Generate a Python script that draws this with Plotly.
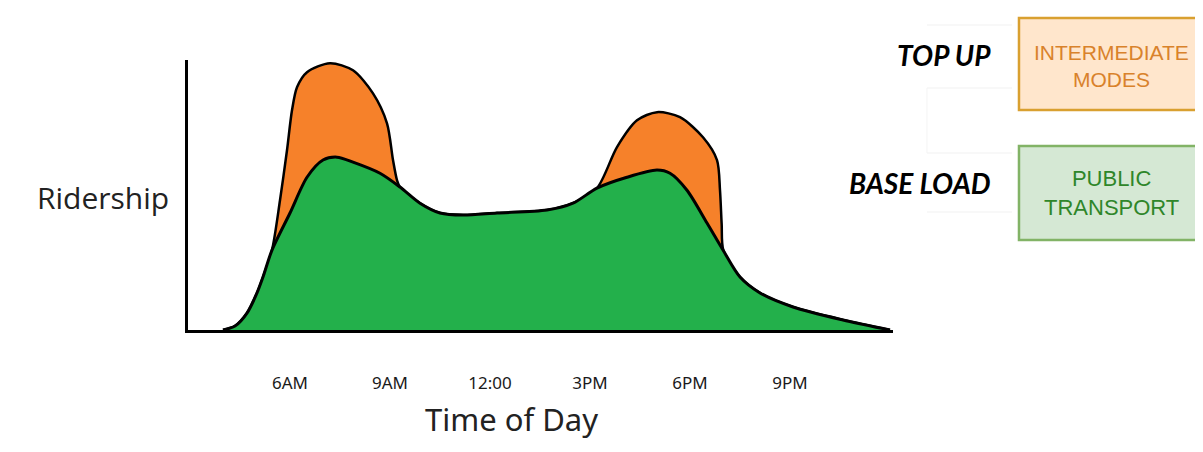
import plotly.graph_objects as go

# Ridership (arbitrary units) vs hour of day
base_hours = [3.99, 4.35, 4.71, 5.01, 5.19, 5.46, 6.0, 6.51, 6.99, 7.41, 7.89, 8.70, 9.30, 9.90,
              10.5, 11.19, 12.21, 13.71, 14.49, 15.21, 16.11, 17.01, 17.40, 17.91, 18.51, 18.99,
              19.50, 20.10, 21.09, 22.59, 24.0]
base_values = [0, 1.5, 6.4, 14, 20, 30.2, 44.2, 57.7, 64.2, 65.3, 63.4, 59.2, 54, 47.9,
               44.2, 43.4, 44.2, 45.3, 47.9, 53.6, 57.7, 60.4, 59.2, 52.8, 40.4, 30.2,
               20, 14, 8.7, 3.8, 0]

total_hours = [3.99, 4.35, 4.71, 5.01, 5.19, 5.46, 5.7, 5.91, 6.06, 6.21, 6.51, 7.2, 7.89, 8.49,
               8.91, 9.09, 9.21, 9.30, 9.90, 10.5, 11.19, 12.21, 13.71, 14.49, 15.21, 15.81,
               16.41, 17.01, 17.70, 18.39, 18.81, 18.9, 18.95, 19.0, 19.50, 20.10, 21.09,
               22.59, 24.0]
total_values = [0, 1.5, 6.4, 14, 20, 30.2, 49, 67.9, 83, 91.7, 97.4, 100.8, 98.1, 89.4,
                78.1, 64.2, 56.6, 54, 47.9, 44.2, 43.4, 44.2, 45.3, 47.9, 53.6, 69.1,
                79.2, 82.3, 80.4, 72.8, 64.2, 52.8, 40, 30.2, 20, 14, 8.7,
                3.8, 0]

tick_hours = [6, 9, 12, 15, 18, 21]
tick_labels = ["6AM", "9AM", "12:00", "3PM", "6PM", "9PM"]

ORANGE = "#F6812A"
GREEN = "#23B04B"

fig = go.Figure()
fig.add_trace(go.Scatter(
    x=total_hours, y=total_values, mode="lines", fill="tozeroy",
    fillcolor=ORANGE, line=dict(color="black", width=2.5, shape="spline", smoothing=0.8),
    hoverinfo="skip", showlegend=False))
fig.add_trace(go.Scatter(
    x=base_hours, y=base_values, mode="lines", fill="tozeroy",
    fillcolor=GREEN, line=dict(color="black", width=3, shape="spline", smoothing=0.8),
    hoverinfo="skip", showlegend=False))

fig.update_layout(
    width=1187, height=436,
    margin=dict(l=180, r=302, t=52, b=114),
    paper_bgcolor="white", plot_bgcolor="white",
    xaxis=dict(range=[2.94, 24.09], showgrid=False, zeroline=False,
               showline=True, linecolor="black", linewidth=3,
               tickvals=tick_hours, ticktext=tick_labels, ticks="",
               ticklabelstandoff=36,
               tickfont=dict(family="Noto Sans", size=17, color="#1a1a1a")),
    yaxis=dict(range=[0, 102], showgrid=False, zeroline=False,
               showline=True, linecolor="black", linewidth=3,
               showticklabels=False, ticks=""),
)

# faint table lines near labels
for yy in [1.1296, 0.8963, 0.6556, 0.437]:
    fig.add_shape(type="line", xref="paper", yref="paper", x0=1.0482, x1=1.1688,
                  y0=yy, y1=yy, line=dict(color="#f1f1f1", width=1), layer="below")
fig.add_shape(type="line", xref="paper", yref="paper", x0=1.0482, x1=1.0482,
              y0=0.6556, y1=0.8963, line=dict(color="#f4f4f4", width=1), layer="below")

# boxes
fig.add_shape(type="rect", xref="paper", yref="paper", x0=1.1787, x1=1.46,
              y0=0.8148, y1=1.1556, fillcolor="#FFE6CC", line=dict(color="#D9A030", width=2.5))
fig.add_shape(type="rect", xref="paper", yref="paper", x0=1.1787, x1=1.46,
              y0=0.3333, y1=0.6815, fillcolor="#D5E8D4", line=dict(color="#82B366", width=2.5))

ann = [
    dict(text="Ridership", x=-0.1206, y=0.489, font=dict(family="Open Sans", size=30, color="#222222"),
         xanchor="center"),
    dict(text="Time of Day", x=0.459, y=-0.33, font=dict(family="Noto Sans", size=31, color="#222222"),
         xanchor="center"),
    dict(text="<b><i>TOP UP</i></b>", x=1.1418, y=1.0185, font=dict(family="Lato", size=28, color="black"),
         xanchor="right"),
    dict(text="<b><i>BASE LOAD</i></b>", x=1.1418, y=0.5444, font=dict(family="Lato", size=28, color="black"),
         xanchor="right"),
    dict(text="INTERMEDIATE<br>MODES", x=1.3106, y=0.9778,
         font=dict(family="Liberation Sans", size=21, color="#D9822B"), xanchor="center"),
    dict(text="PUBLIC<br>TRANSPORT", x=1.3106, y=0.5056,
         font=dict(family="Liberation Sans", size=22, color="#2F862A"), xanchor="center"),
]
for a in ann:
    fig.add_annotation(xref="paper", yref="paper", showarrow=False, yanchor="middle", **a)

fig.write_html("out.html")
